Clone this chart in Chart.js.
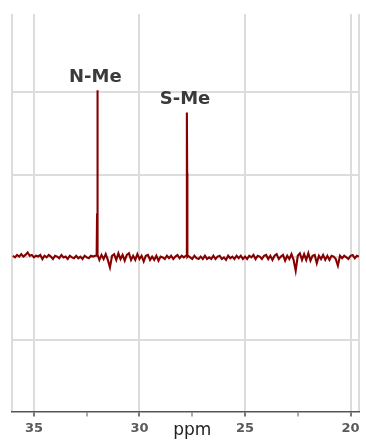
<!DOCTYPE html>
<html>
<head>
<meta charset="utf-8">
<script src="https://cdn.jsdelivr.net/npm/chart.js@4/dist/chart.umd.min.js"></script>
<style>
  html, body { margin: 0; padding: 0; background: #fff; }
  canvas { display: block; }
</style>
</head>
<body>
<canvas id="myChart" width="366" height="444"></canvas>
<script>
// chemical shift (ppm) and intensity, baseline = 0
const ppm = [
  36.0, 35.9, 35.8, 35.7, 35.6, 35.5, 35.4, 35.3, 35.2, 35.1,
  35.0, 34.9, 34.8, 34.7, 34.6, 34.5, 34.4, 34.3, 34.2, 34.1,
  34.0, 33.9, 33.8, 33.7, 33.6, 33.5, 33.4, 33.3, 33.2, 33.1,
  33.0, 32.9, 32.8, 32.7, 32.6, 32.5, 32.4, 32.3, 32.2, 32.1,
  32.03, 32.01, 32.0, 31.99, 31.97,
  31.9, 31.8, 31.7, 31.6, 31.5, 31.4, 31.3, 31.2, 31.1,
  31.0, 30.9, 30.8, 30.7, 30.6, 30.5, 30.4, 30.3, 30.2, 30.1,
  30.0, 29.9, 29.8, 29.7, 29.6, 29.5, 29.4, 29.3, 29.2, 29.1,
  29.0, 28.9, 28.8, 28.7, 28.6, 28.5, 28.4, 28.3, 28.2, 28.1,
  28.0, 27.9, 27.8,
  27.77, 27.76, 27.75, 27.74, 27.73,
  27.7, 27.6, 27.5, 27.4, 27.3, 27.2, 27.1,
  27.0, 26.9, 26.8, 26.7, 26.6, 26.5, 26.4, 26.3, 26.2, 26.1,
  26.0, 25.9, 25.8, 25.7, 25.6, 25.5, 25.4, 25.3, 25.2, 25.1,
  25.0, 24.9, 24.8, 24.7, 24.6, 24.5, 24.4, 24.3, 24.2, 24.1,
  24.0, 23.9, 23.8, 23.7, 23.6, 23.5, 23.4, 23.3, 23.2, 23.1,
  23.0, 22.9, 22.8, 22.7, 22.6, 22.5, 22.4, 22.3, 22.2, 22.1,
  22.0, 21.9, 21.8, 21.7, 21.6, 21.5, 21.4, 21.3, 21.2, 21.1,
  21.0, 20.9, 20.8, 20.7, 20.6, 20.5, 20.4, 20.3, 20.2, 20.1,
  20.0, 19.9, 19.8, 19.7, 19.6
];
const intensity = [
  0.02, 0.0, 0.03, 0.01, 0.04, 0.01, 0.03, 0.06, 0.02, 0.03,
  0.0, 0.02, 0.01, 0.03, -0.02, 0.02, 0.0, 0.03, 0.01, -0.02,
  0.02, 0.01, -0.01, 0.03, 0.0, 0.01, -0.02, 0.02, 0.0, -0.01,
  0.02, -0.01, 0.01, -0.02, 0.02, 0.0, -0.01, 0.02, 0.01, 0.02,
  0.02, 0.53, 2.02, 0.53, 0.03,
  -0.03, 0.03, -0.02, 0.04, -0.03, -0.12, 0.02, 0.04, -0.03,
  0.05, -0.02, 0.03, -0.04, 0.03, 0.05, -0.03, 0.02, -0.03, 0.04,
  -0.02, 0.02, -0.05, 0.02, 0.03, -0.03, 0.01, -0.03, 0.02, -0.04,
  0.01, 0.0, -0.02, 0.02, -0.01, 0.02, -0.02, 0.01, 0.03, -0.01,
  0.02, 0.0, 0.02,
  0.02, 1.02, 1.75, 1.02, 0.01,
  0.02, 0.0, -0.02, 0.02, -0.01, -0.02, 0.01,
  -0.02, 0.02, -0.02, 0.0, -0.02, 0.02, -0.02, 0.01, 0.02, -0.02,
  0.0, -0.03, 0.02, -0.01, 0.01, -0.02, 0.02, -0.01, 0.02, -0.02,
  0.01, -0.02, 0.02, 0.0, 0.03, -0.02, 0.02, 0.01, -0.02, 0.02,
  0.03, -0.02, 0.02, -0.03, 0.02, 0.04, -0.02, 0.01, 0.03, -0.04,
  0.02, -0.02, 0.04, -0.03, -0.16, 0.02, 0.05, -0.03, 0.04, -0.03,
  0.05, -0.04, 0.02, 0.03, -0.07, 0.02, -0.02, 0.03, -0.03, 0.02,
  -0.03, 0.02, 0.01, -0.02, -0.10, 0.02, -0.01, 0.02, 0.0, -0.02,
  0.02, 0.03, -0.01, 0.02, 0.01
];

const peakNames = ['N-Me', 'S-Me'];
const peakPpm = [32.0, 27.75];
const peakTop = [2.02, 1.75];

const xTickValues = [36.04, 35, 32.5, 30, 27.5, 25, 22.5, 20, 19.6];
const yTickValues = [-1, 0, 1, 2];
const xMin = 19.6, xMax = 36.04;
const yMin = -1.86, yMax = 2.94;

const isMajor = v => Math.abs(v % 5) < 1e-9;
const isEdge = v => v === xMin || v === xMax;

const peakLabels = {
    id: 'peakLabels',
    afterDatasetsDraw(chart) {
        const ctx = chart.ctx;
        const xs = chart.scales.x;
        const ys = chart.scales.y;
        ctx.save();
        ctx.font = 'bold 18px "DejaVu Sans"';
        ctx.fillStyle = '#3a3a3a';
        ctx.textAlign = 'center';
        ctx.textBaseline = 'bottom';
        peakNames.forEach((name, i) => {
            ctx.fillText(name, xs.getPixelForValue(peakPpm[i]) - 2, ys.getPixelForValue(peakTop[i]) - 4);
        });
        ctx.restore();
    }
};

const ctx = document.getElementById('myChart').getContext('2d');
new Chart(ctx, {
    type: 'line',
    data: {
        datasets: [{
            data: ppm.map((x, i) => ({ x: x, y: intensity[i] })),
            borderColor: '#860000',
            borderWidth: 2.1,
            pointRadius: 0,
            tension: 0,
            fill: false
        }]
    },
    options: {
        responsive: false,
        animation: false,
        layout: { padding: { left: 12, right: 5, top: 14, bottom: 0 } },
        plugins: {
            legend: { display: false },
            tooltip: { enabled: false }
        },
        scales: {
            x: {
                type: 'linear',
                reverse: true,
                min: xMin,
                max: xMax,
                afterBuildTicks: scale => {
                    scale.ticks = xTickValues.map(v => ({ value: v }));
                },
                border: { display: true, color: '#555', width: 1.5 },
                grid: {
                    color: c => (isMajor(c.tick.value) || isEdge(c.tick.value)) ? '#dcdcdc' : 'rgba(0,0,0,0)',
                    lineWidth: 2,
                    tickLength: 5,
                    tickColor: c => isEdge(c.tick.value) ? 'rgba(0,0,0,0)' : (isMajor(c.tick.value) ? '#777' : '#aaa')
                },
                ticks: {
                    autoSkip: false,
                    maxRotation: 0,
                    padding: 7,
                    callback: v => isMajor(v) ? String(v) : (v === 27.5 ? 'ppm' : ''),
                    font: c => (c.tick && c.tick.value === 27.5)
                        ? { family: '"DejaVu Sans"', size: 17, lineHeight: 0.8 }
                        : { family: '"DejaVu Sans"', size: 13, weight: 'bold', lineHeight: 0.8 },
                    color: c => (c.tick && c.tick.value === 27.5) ? '#222' : '#5a5a5a'
                }
            },
            y: {
                min: yMin,
                max: yMax,
                afterBuildTicks: scale => {
                    scale.ticks = yTickValues.map(v => ({ value: v }));
                },
                border: { display: false },
                grid: { color: '#dcdcdc', lineWidth: 2, drawTicks: false },
                ticks: { display: false }
            }
        }
    },
    plugins: [peakLabels]
});
</script>
</body>
</html>
